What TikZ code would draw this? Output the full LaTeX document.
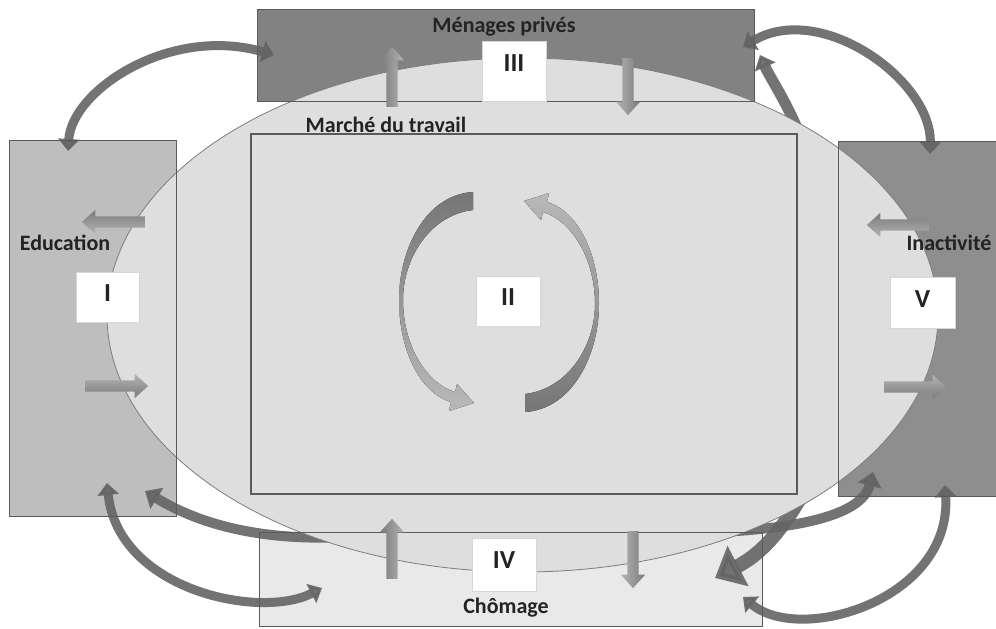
\documentclass[tikz,border=0pt]{standalone}
\usepackage{fontspec}
\setmainfont{Carlito}
\usetikzlibrary{arrows.meta,shapes.geometric,shapes.arrows}
\definecolor{menfill}{RGB}{130,130,130}
\definecolor{edufill}{RGB}{190,190,190}
\definecolor{inafill}{RGB}{142,142,142}
\definecolor{chofill}{RGB}{233,233,233}
\definecolor{ellfill}{RGB}{222,222,222}
\definecolor{ellline}{RGB}{125,125,125}
\definecolor{boxline}{RGB}{90,90,90}
\definecolor{arcgray}{RGB}{100,100,100}
\definecolor{txtgray}{RGB}{35,35,35}
\definecolor{numline}{RGB}{215,215,215}
\definecolor{barlight}{RGB}{180,180,180}
\definecolor{bardark}{RGB}{122,122,122}
\definecolor{cresdark}{RGB}{118,118,118}
\definecolor{creslight}{RGB}{185,185,185}
\begin{document}
\begin{tikzpicture}[x=1pt,y=-1pt,
  areabox/.style={rectangle, inner sep=0pt, draw=none},
  areaborder/.style={draw=boxline, line width=1pt},
  outarc/.style={draw=arcgray, line width=9pt, opacity=0.9},
  twohead/.style={{Triangle[length=12pt,width=21pt]}-{Triangle[length=12pt,width=21pt]}},
  blockarr/.style={single arrow, inner xsep=0pt, inner ysep=5.5pt,
     single arrow head extend=6.5pt, single arrow tip angle=84, draw=none},
  numbox/.style={rectangle, draw=numline, line width=0.6pt, fill=white, inner sep=0pt,
     font=\fontsize{26}{30}\selectfont\bfseries, text=txtgray},
  lbl/.style={font=\fontsize{22}{26}\selectfont\bfseries, text=txtgray, inner sep=0pt, anchor=base}
]
\useasboundingbox[fill=white] (0,0) rectangle (996,629);

% area fills
\node[areabox, fill=menfill, minimum width=496pt, minimum height=91pt] (men) at (506,55.5) {};
\node[areabox, fill=edufill, minimum width=166pt, minimum height=375pt] (edu) at (93,328.5) {};
\node[areabox, fill=inafill, minimum width=170pt, minimum height=354pt] (ina) at (924,319) {};
\node[areabox, fill=chofill, minimum width=502pt, minimum height=93pt] (cho) at (511,579.5) {};

% arrows partly hidden behind the ellipse
\coordinate (aA) at (802,140); \coordinate (aB) at (760,55);
\coordinate (bA) at (805,490); \coordinate (bB) at (715,578);
\coordinate (cA) at (372,535); \coordinate (cB) at (145,491);
\coordinate (dA) at (720,532); \coordinate (dB) at (873,472);
\draw[outarc, line width=11pt, -{Triangle[length=13pt,width=22pt]}] (aA) .. controls (786,100) and (770,78) .. (aB);
\draw[outarc, line width=14pt, -{Triangle[length=26pt,width=44pt]}] (bA) .. controls (785,525) and (765,552) .. (bB);
\draw[outarc, line width=10pt, -{Triangle[length=14pt,width=24pt]}] (cA) .. controls (270,545) and (200,525) .. (cB);
\draw[outarc, line width=10pt, -{Triangle[length=14pt,width=24pt]}] (dA) .. controls (800,528) and (862,515) .. (dB);

% outer curved arrows
\coordinate (eA) at (68,151); \coordinate (eB) at (274,55);
\coordinate (fA) at (743,47); \coordinate (fB) at (930,154);
\coordinate (gA) at (107,483); \coordinate (gB) at (322,588);
\coordinate (hA) at (743,597); \coordinate (hB) at (945,485);
\draw[outarc, twohead] (eA) .. controls (72,90) and (170,25) .. (eB);
\draw[outarc, twohead] (fA) .. controls (820,0) and (932,80) .. (fB);
\draw[outarc, twohead] (gA) .. controls (118,590) and (260,620) .. (gB);
\draw[outarc, twohead] (hA) .. controls (800,645) and (952,600) .. (hB);

% labour market ellipse
\node[ellipse, fill=ellfill, draw=ellline, line width=0.8pt, inner sep=0pt,
      minimum width=831pt, minimum height=514pt] (ell) at (522.5,315) {};

% area borders on top
\draw[areaborder] (men.south west) rectangle (men.north east);
\draw[areaborder] (edu.south west) rectangle (edu.north east);
\draw[areaborder] (ina.south west) rectangle (ina.north east);
\draw[areaborder] (cho.south west) rectangle (cho.north east);

% inner rectangle
\node[rectangle, fill=ellfill, draw=boxline, line width=1.2pt, inner sep=0pt,
      minimum width=546pt, minimum height=360pt] (inner) at (524,314) {};

% circulating crescent arrows
\fill[top color=cresdark, bottom color=creslight]
  (473,192) .. controls (425,195) and (399,250) .. (399,300)
  .. controls (399,350) and (420,393) .. (451,402)
  -- (449,411) -- (474,403) -- (457,384) -- (455,392)
  .. controls (426,383) and (403,345) .. (403,300)
  .. controls (403,258) and (430,215) .. (473,210) -- cycle;
\fill[top color=creslight, bottom color=cresdark]
  (525,412) .. controls (573,409) and (599,354) .. (599,304)
  .. controls (599,254) and (578,211) .. (547,202)
  -- (549,193) -- (524,201) -- (541,220) -- (543,212)
  .. controls (572,221) and (595,259) .. (595,304)
  .. controls (595,346) and (568,389) .. (525,394) -- cycle;

% straight block arrows
\node[blockarr, rotate=90, minimum height=60pt, left color=bardark, right color=barlight] (menUp) at (392,80) {};
\node[blockarr, rotate=-90, minimum height=57pt, left color=barlight, right color=bardark] (menDown) at (628,83.5) {};
\node[blockarr, rotate=90, minimum height=60pt, left color=bardark, right color=barlight] (choUp) at (392,552) {};
\node[blockarr, rotate=-90, minimum height=57pt, left color=barlight, right color=bardark] (choDown) at (633,556.5) {};
\node[blockarr, rotate=180, minimum height=63pt, top color=bardark, bottom color=barlight] (eduLeft) at (116.5,222) {};
\node[blockarr, minimum height=63pt, top color=barlight, bottom color=bardark] (eduRight) at (113.5,386) {};
\node[blockarr, rotate=180, minimum height=62pt, top color=bardark, bottom color=barlight] (inaLeft) at (901,225) {};
\node[blockarr, minimum height=62pt, top color=barlight, bottom color=bardark] (inaRight) at (912,387) {};

% numbered boxes
\node[numbox, minimum width=63pt, minimum height=50pt, text depth=7pt] (nI) at (107.5,297) {I};
\node[numbox, minimum width=64pt, minimum height=50pt, text depth=7pt] (nII) at (508,301) {II};
\node[numbox, minimum width=64pt, minimum height=60pt, text depth=15pt] (nIII) at (514,71) {III};
\node[numbox, minimum width=64pt, minimum height=53pt, text depth=8pt] (nIV) at (504,564.5) {IV};
\node[numbox, minimum width=65pt, minimum height=51pt, text depth=7pt] (nV) at (922.5,302.5) {V};

% labels
\node[lbl] (tmen) at (504,32) {Ménages privés};
\node[lbl] (tmar) at (386,132) {Marché du travail};
\node[lbl] (tedu) at (65,250) {Education};
\node[lbl] (tina) at (949,250) {Inactivité};
\node[lbl] (tcho) at (506,613) {Chômage};
\end{tikzpicture}
\end{document}
